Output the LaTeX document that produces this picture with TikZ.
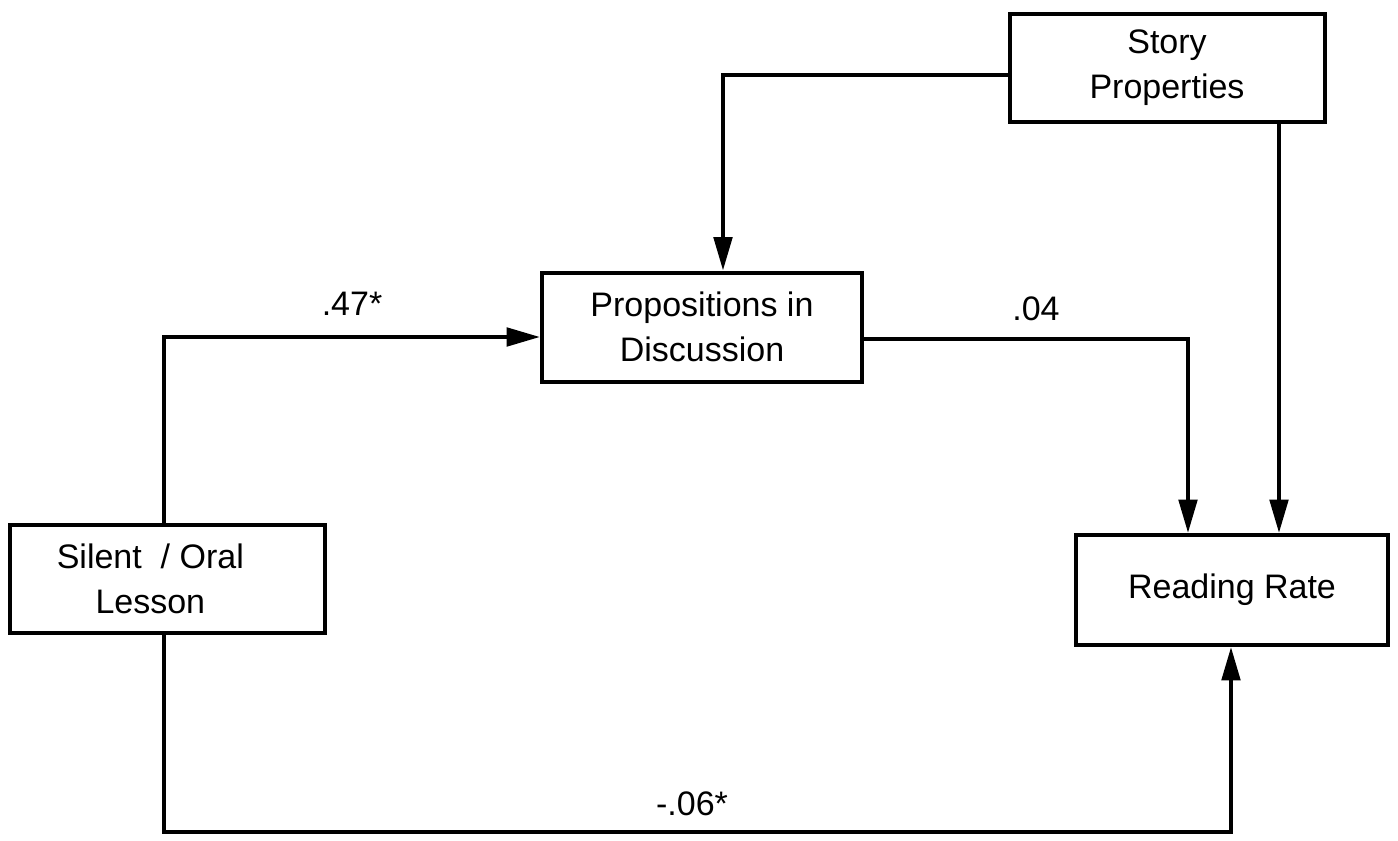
\documentclass[tikz,border=0pt]{standalone}
\usepackage{fontspec}
\setmainfont{Liberation Sans}
\usetikzlibrary{arrows.meta}
\begin{document}
\begin{tikzpicture}[x=0.3pt,y=-0.3pt,
  every node/.style={font=\fontsize{10.2}{13.5}\selectfont},
  varbox/.style={draw, line width=1.2pt, inner sep=0pt, align=center},
  link/.style={line width=1.2pt},
  arr/.style={link, -{Triangle[length=10pt,width=5.5pt]}},
  coef/.style={inner sep=0pt}]
\useasboundingbox (0,0) rectangle (1398,841);

% variables
\node[varbox, minimum width=94.5pt, minimum height=32.4pt] (story) at (1167,68) {Story\\Properties};
\node[varbox, minimum width=96pt, minimum height=32.7pt] (prop) at (702,327) {Propositions in\\Discussion};
\node[varbox, minimum width=94.5pt, minimum height=32.4pt] (silent) at (167,579) {Silent \ / Oral\hspace*{10pt}\\Lesson\hspace*{10pt}};
\node[varbox, minimum width=93.6pt, minimum height=33pt] (rate) at (1232,590) {Reading Rate};

% path corners
\coordinate (sp) at (723,75);
\coordinate (sr) at (1279,0);
\coordinate (lp) at (164,337);
\coordinate (pr) at (1188,339);
\coordinate (lr) at (1231,832);
\coordinate (lb) at (164,832);

% paths
\draw[arr] (story.west |- sp) -- (sp) -- (prop.north -| sp);
\draw[arr] (story.south -| sr) -- (rate.north -| sr);
\draw[arr] (silent.north -| lp) -- (lp) -- (prop.west |- lp);
\draw[arr] (prop.east |- pr) -- (pr) -- (rate.north -| pr);
\draw[arr] (silent.south -| lb) -- (lb) -- (lr) -- (rate.south -| lr);

% path coefficients
\node[coef] (c47) at (352,304) {.47*};
\node[coef] (c04) at (1036,309) {.04};
\node[coef] (c06) at (692,804) {-.06*};
\end{tikzpicture}
\end{document}
